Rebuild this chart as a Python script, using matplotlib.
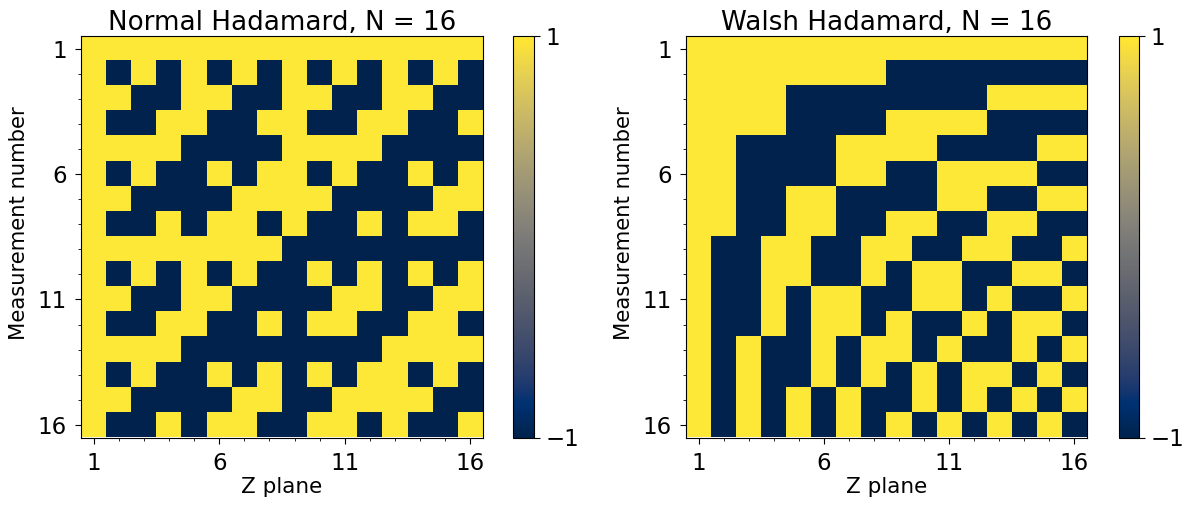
import numpy as np
import matplotlib
matplotlib.use("Agg")
import matplotlib.pyplot as plt

# Hadamard matrix entries ('+' = 1, '-' = -1)
normal_rows = [
    "++++++++++++++++",
    "+-+-+-+-+-+-+-+-",
    "++--++--++--++--",
    "+--++--++--++--+",
    "++++----++++----",
    "+-+--+-++-+--+-+",
    "++----++++----++",
    "+--+-++-+--+-++-",
    "++++++++--------",
    "+-+-+-+--+-+-+-+",
    "++--++----++--++",
    "+--++--+-++--++-",
    "++++--------++++",
    "+-+--+-+-+-++-+-",
    "++----++--++++--",
    "+--+-++--++-+--+",
]
walsh_rows = [
    "++++++++++++++++",
    "++++++++--------",
    "++++--------++++",
    "++++----++++----",
    "++----++++----++",
    "++----++--++++--",
    "++--++----++--++",
    "++--++--++--++--",
    "+--++--++--++--+",
    "+--++--+-++--++-",
    "+--+-++--++-+--+",
    "+--+-++-+--+-++-",
    "+-+--+-++-+--+-+",
    "+-+--+-+-+-++-+-",
    "+-+-+-+--+-+-+-+",
    "+-+-+-+-+-+-+-+-",
]
titles = ["Normal Hadamard, N = 16", "Walsh Hadamard, N = 16"]
major_ticks = [1, 6, 11, 16]
cbar_ticks = [-1, 1]
N = 16


def to_matrix(rows):
    return np.array([[1 if c == "+" else -1 for c in r] for r in rows])


W, H = 1195, 509
fig = plt.figure(figsize=(W / 100, H / 100), dpi=100)


def frac(x0, y0, x1, y1):
    return [x0 / W, 1 - y1 / H, (x1 - x0) / W, (y1 - y0) / H]


ax_boxes = [frac(81, 36, 483, 437.5), frac(686, 36, 1087, 437.5)]
cb_boxes = [frac(513, 36, 534, 437.5), frac(1119, 36, 1139, 437.5)]

for rows, title, axb, cbb in zip([normal_rows, walsh_rows], titles, ax_boxes, cb_boxes):
    ax = fig.add_axes(axb)
    M = to_matrix(rows)
    im = ax.imshow(M, cmap="cividis", vmin=-1, vmax=1, interpolation="nearest",
                   extent=(0.5, N + 0.5, N + 0.5, 0.5), aspect="auto")
    ax.set_xticks(major_ticks)
    ax.set_yticks(major_ticks)
    ax.set_xticks(range(1, N + 1), minor=True)
    ax.set_yticks(range(1, N + 1), minor=True)
    ax.tick_params(axis="both", which="major", labelsize=16.5, length=4.3, pad=6)
    ax.tick_params(axis="both", which="minor", length=2.5)
    ax.set_title(title, fontsize=18.8, pad=4)
    ax.set_xlabel("Z plane", fontsize=15.5, labelpad=1.5)
    ax.set_ylabel("Measurement number", fontsize=15.2, labelpad=6)
    ax.yaxis.label.set_y(0.535)
    cax = fig.add_axes(cbb)
    cb = fig.colorbar(im, cax=cax, ticks=cbar_ticks)
    cb.ax.tick_params(labelsize=16.5, length=4.3, pad=4)

fig.savefig("out.png", dpi=100)
